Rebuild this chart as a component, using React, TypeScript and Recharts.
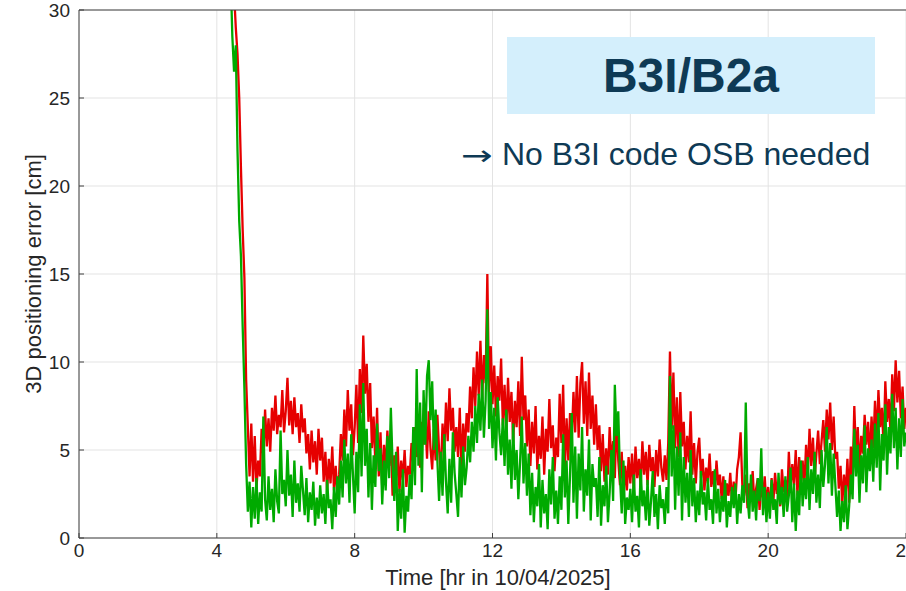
import { CartesianGrid, Line, LineChart, XAxis, YAxis } from "recharts";

// time axis: samples every 0.05 hr starting at 4.40 hr
const T0 = 4.4;
const DT = 0.05;

const X_TICKS = [0, 4, 8, 12, 16, 20, 24];
const Y_TICKS = [0, 5, 10, 15, 20, 25, 30];

// 3D positioning error [cm], red solution
const RED_ERR = [
    38, 34, 31, 29, 27.5, 25, 21, 17.5, 14.8, 9, 6.3, 3.5, // 4.40 - 4.95
    6.5, 3.2, 5.8, 2.8, 4.4, 3.5, 6.2, 4.6, 7.3, 5.2, 6.8, 4.9, 7.4, 6.1, 8.1, 5.9, 7.0, 6.3, 8.4, 6.0, // 5
    7.2, 9.1, 6.4, 7.8, 5.9, 8.0, 6.3, 7.1, 5.4, 7.6, 6.0, 6.8, 4.8, 5.9, 3.9, 6.1, 4.3, 5.5, 3.6, 6.2, // 6
    4.4, 5.7, 3.2, 4.9, 2.6, 4.5, 3.1, 5.2, 2.7, 4.1, 2.4, 3.6, 5.9, 4.4, 7.3, 5.2, 8.4, 6.1, 7.6, 4.7, // 7
    6.3, 8.7, 5.4, 9.6, 7.1, 11.5, 8.2, 9.9, 6.6, 8.8, 5.1, 6.9, 4.2, 7.4, 3.5, 6.0, 2.8, 5.3, 3.9, 6.1, // 8
    4.1, 5.8, 2.4, 4.7, 3.0, 5.2, 2.6, 4.4, 3.3, 5.0, 2.9, 4.1, 3.6, 5.4, 4.2, 6.3, 4.6, 5.8, 4.0, 6.6, // 9
    5.3, 6.8, 4.5, 7.2, 5.1, 3.9, 6.2, 4.4, 7.0, 5.0, 3.6, 6.5, 4.8, 7.7, 5.5, 8.5, 6.1, 7.4, 4.9, 6.3, // 10
    4.6, 7.4, 3.8, 6.5, 4.9, 7.1, 6.0, 8.6, 6.8, 9.7, 7.5, 10.6, 8.1, 11.2, 7.9, 10.4, 8.8, 15.0, 8.3, 10.9, // 11
    7.6, 9.8, 6.9, 9.2, 7.8, 10.2, 6.4, 8.7, 5.9, 9.1, 6.6, 8.3, 5.4, 7.8, 6.3, 8.9, 5.8, 10.3, 6.7, 8.1, // 12
    5.2, 7.3, 4.1, 6.6, 4.8, 7.5, 3.9, 5.8, 4.5, 6.9, 3.6, 6.2, 4.9, 7.9, 5.1, 6.4, 3.8, 5.7, 4.6, 8.2, // 13
    5.4, 8.7, 3.9, 6.8, 4.4, 7.1, 5.6, 8.3, 6.0, 9.2, 5.7, 8.8, 10.0, 6.5, 8.9, 5.8, 9.4, 6.2, 8.1, 5.3, // 14
    7.6, 5.0, 6.4, 3.8, 5.9, 3.2, 5.1, 3.6, 6.3, 4.1, 5.5, 3.4, 6.8, 4.4, 3.0, 4.9, 2.3, 4.1, 2.7, 4.6, // 15
    3.1, 4.8, 2.6, 5.2, 3.4, 4.5, 2.8, 5.5, 3.6, 4.9, 3.0, 5.3, 3.8, 4.6, 2.9, 5.0, 3.5, 5.6, 4.0, 3.2, // 16
    4.7, 3.3, 5.4, 10.6, 6.2, 9.4, 5.1, 8.0, 4.6, 8.3, 5.2, 6.6, 3.9, 5.8, 4.3, 7.2, 3.6, 5.4, 3.1, 4.9, // 17
    5.7, 3.4, 4.5, 2.7, 4.0, 3.1, 4.8, 2.9, 3.8, 2.5, 4.4, 3.0, 3.6, 2.2, 3.5, 1.8, 3.1, 2.4, 3.7, 2.0, // 18
    3.2, 2.1, 3.9, 4.6, 6.0, 3.0, 2.4, 3.6, 1.7, 3.1, 2.2, 3.8, 1.9, 2.8, 3.4, 1.6, 3.0, 2.3, 3.5, 1.8, // 19
    2.9, 1.5, 3.4, 2.0, 3.7, 2.5, 3.1, 1.8, 3.9, 2.6, 3.3, 2.0, 4.9, 2.8, 4.2, 3.0, 5.0, 2.4, 4.6, 3.1, // 20
    4.4, 2.9, 5.3, 3.6, 6.2, 4.1, 5.7, 3.4, 4.8, 6.1, 4.2, 5.5, 6.7, 4.9, 7.3, 5.6, 7.7, 5.0, 6.9, 4.5, // 21
    4.9, 2.8, 4.1, 1.9, 3.6, 2.4, 4.5, 2.0, 5.2, 3.4, 7.5, 4.6, 6.3, 3.9, 5.8, 4.8, 7.0, 5.3, 6.6, 4.4, // 22
    6.9, 5.1, 7.8, 5.6, 8.4, 6.3, 7.4, 5.2, 8.9, 6.6, 7.9, 6.0, 9.3, 7.2, 10.1, 7.7, 9.5, 6.8, 8.6, 6.2, // 23
    7.4, // 24.00
];

// 3D positioning error [cm], green solution
const GREEN_ERR = [
    32, 28.5, 26.5, 28, 22, 18, 16, 12, 8.5, 4.2, 1.5, 3.2, // 4.40 - 4.95
    0.6, 2.9, 1.1, 3.4, 0.8, 2.6, 1.5, 6.9, 2.2, 1.0, 3.5, 1.6, 2.8, 0.9, 3.9, 2.1, 1.4, 6.1, 2.5, 3.3, // 5
    1.8, 5.0, 2.4, 3.6, 1.2, 4.4, 2.0, 3.1, 1.5, 4.1, 2.7, 1.3, 3.4, 0.9, 2.6, 1.6, 3.2, 0.7, 2.3, 1.1, // 6
    3.0, 1.4, 2.5, 0.8, 3.3, 1.7, 2.2, 0.5, 2.9, 1.2, 3.5, 1.9, 4.4, 2.3, 5.6, 3.1, 4.8, 2.0, 5.9, 3.6, // 7
    1.4, 4.9, 2.6, 7.6, 3.5, 8.8, 4.1, 6.2, 2.3, 5.4, 1.6, 4.7, 2.9, 6.5, 3.8, 5.1, 1.9, 4.4, 2.7, 5.8, // 8
    3.4, 7.4, 4.2, 2.1, 4.9, 0.4, 2.8, 1.1, 3.9, 0.3, 2.4, 1.5, 3.6, 2.2, 6.3, 3.0, 9.6, 4.1, 7.7, 2.6, // 9
    8.4, 5.3, 9.2, 10.1, 6.7, 8.9, 5.0, 7.3, 4.4, 2.1, 4.9, 2.4, 5.9, 3.2, 1.4, 4.5, 2.0, 6.0, 3.7, 2.5, // 10
    1.2, 4.6, 2.3, 5.2, 3.0, 4.0, 5.8, 4.3, 6.6, 4.9, 7.5, 5.4, 8.2, 6.1, 9.0, 5.7, 7.8, 13.0, 6.2, 8.3, // 11
    5.1, 7.4, 4.4, 8.0, 6.0, 4.7, 6.8, 4.1, 7.3, 3.6, 5.6, 2.8, 6.5, 3.3, 5.0, 2.2, 4.3, 6.9, 3.1, 5.4, // 12
    2.4, 4.8, 1.3, 3.7, 0.9, 2.9, 1.8, 4.2, 0.6, 3.3, 1.4, 2.5, 0.5, 3.9, 1.9, 4.6, 1.1, 2.7, 0.8, 3.5, // 13
    1.6, 5.9, 2.3, 4.4, 0.8, 3.6, 7.1, 2.0, 5.2, 1.1, 4.8, 2.7, 6.3, 1.5, 3.9, 2.4, 5.6, 1.0, 4.2, 2.9, // 14
    3.4, 1.2, 4.6, 0.7, 3.0, 1.8, 4.1, 0.9, 2.6, 5.0, 2.1, 8.7, 5.8, 7.2, 3.5, 1.4, 4.4, 0.8, 2.3, 1.6, // 15
    2.8, 0.9, 3.6, 1.5, 2.4, 0.6, 3.9, 1.8, 2.7, 1.0, 3.3, 0.7, 2.1, 3.8, 1.2, 2.5, 0.5, 3.0, 1.7, 2.2, // 16
    0.8, 2.9, 1.4, 9.2, 3.5, 6.4, 1.6, 5.2, 2.4, 6.0, 1.0, 4.6, 2.0, 3.7, 1.2, 5.0, 1.8, 3.4, 0.9, 2.7, // 17
    1.3, 3.8, 1.9, 2.6, 1.0, 3.4, 1.6, 2.2, 0.8, 3.9, 1.4, 2.8, 0.9, 2.4, 1.5, 3.3, 0.6, 2.1, 1.2, 2.9, // 18
    1.7, 3.1, 0.8, 2.5, 1.4, 3.0, 2.0, 7.7, 2.3, 1.1, 3.6, 1.5, 2.7, 1.0, 3.4, 2.1, 5.1, 1.3, 2.9, 0.9, // 19
    2.6, 1.1, 3.3, 1.6, 2.2, 0.8, 3.7, 1.9, 2.9, 1.2, 3.5, 1.5, 2.4, 4.0, 0.9, 3.1, 0.4, 2.7, 1.3, 4.4, // 20
    1.8, 3.4, 2.2, 4.6, 1.6, 3.9, 2.5, 4.9, 2.0, 3.6, 1.7, 5.0, 2.9, 4.2, 6.3, 3.1, 5.4, 2.4, 4.8, 3.0, // 21
    1.2, 2.7, 0.4, 2.1, 0.9, 3.0, 0.5, 1.8, 3.6, 2.2, 6.2, 3.5, 5.3, 2.0, 4.7, 3.1, 6.4, 2.6, 5.1, 3.8, // 22
    5.6, 3.2, 6.5, 4.0, 7.1, 2.7, 5.9, 4.4, 7.6, 3.6, 6.3, 4.8, 8.2, 5.1, 7.4, 3.9, 6.8, 4.6, 7.9, 5.2, // 23
    6.0, // 24.00
];

const data = RED_ERR.map((red, i) => ({
    t: +(T0 + i * DT).toFixed(2),
    red,
    green: GREEN_ERR[i],
}));

const FONT = "'Liberation Sans', Arial, Helvetica, sans-serif";
const INK = "#262626";
const NAVY = "#0e3a55";

export default function App() {
    return (
        <div style={{ position: "absolute", left: 0, top: 0, width: 906, height: 591, background: "#fff", fontFamily: FONT }}>
            <LineChart width={906} height={591} data={data} margin={{ top: 0, right: 0, bottom: 0, left: 0 }}>
                <CartesianGrid stroke="#e3e3e3" strokeWidth={1} />
                <XAxis
                    dataKey="t"
                    type="number"
                    domain={[0, 24]}
                    ticks={X_TICKS}
                    height={53}
                    stroke="#404040"
                    tickSize={-5}
                    tickMargin={11}
                    interval={0}
                    tick={{ fill: INK, fontSize: 19, fontFamily: FONT }}
                    label={({ viewBox }: any) => (
                        <text
                            x={498}
                            y={viewBox.y + 47}
                            textAnchor="middle"
                            fill={INK}
                            fontSize={22}
                            fontFamily={FONT}
                        >
                            Time [hr in 10/04/2025]
                        </text>
                    )}
                />
                <XAxis
                    xAxisId="top"
                    orientation="top"
                    dataKey="t"
                    type="number"
                    domain={[0, 24]}
                    ticks={X_TICKS}
                    height={10}
                    stroke="#404040"
                    tickSize={-5}
                    tick={false}
                />
                <YAxis
                    domain={[0, 30]}
                    ticks={Y_TICKS}
                    allowDataOverflow
                    width={79}
                    stroke="#404040"
                    tickSize={-5}
                    tickMargin={14}
                    interval={0}
                    tick={{ fill: INK, fontSize: 19, fontFamily: FONT }}
                    label={({ viewBox }: any) => (
                        <text
                            x={33}
                            y={viewBox.y + viewBox.height / 2}
                            transform={`rotate(-90 33 ${viewBox.y + viewBox.height / 2})`}
                            textAnchor="middle"
                            dominantBaseline="central"
                            fill={INK}
                            fontSize={22}
                            fontFamily={FONT}
                        >
                            3D positioning error [cm]
                        </text>
                    )}
                />
                <Line
                    type="linear"
                    dataKey="red"
                    stroke="#e60000"
                    strokeWidth={2.3}
                    dot={false}
                    activeDot={false}
                    isAnimationActive={false}
                />
                <Line
                    type="linear"
                    dataKey="green"
                    stroke="#00aa00"
                    strokeWidth={2.3}
                    dot={false}
                    activeDot={false}
                    isAnimationActive={false}
                />
            </LineChart>
            <div
                style={{
                    position: "absolute",
                    left: 507,
                    top: 37,
                    width: 368,
                    height: 77,
                    background: "#d4effc",
                    display: "flex",
                    alignItems: "center",
                    justifyContent: "center",
                    color: NAVY,
                    fontWeight: 700,
                    fontSize: 48,
                    fontFamily: FONT,
                }}
            >
                B3I/B2a
            </div>
            <div
                style={{
                    position: "absolute",
                    left: 461,
                    top: 135,
                    color: NAVY,
                    fontSize: 32,
                    fontFamily: FONT,
                    whiteSpace: "nowrap",
                    lineHeight: "38px",
                }}
            >
                <span
                    style={{
                        display: "inline-block",
                        fontFamily: "'DejaVu Sans', sans-serif",
                        fontSize: 28,
                        width: 32,
                        transform: "scaleX(1.35)",
                        transformOrigin: "left center",
                    }}
                >
                    →
                </span>
                <span style={{ marginLeft: 9 }}>No B3I code OSB needed</span>
            </div>
        </div>
    );
}
